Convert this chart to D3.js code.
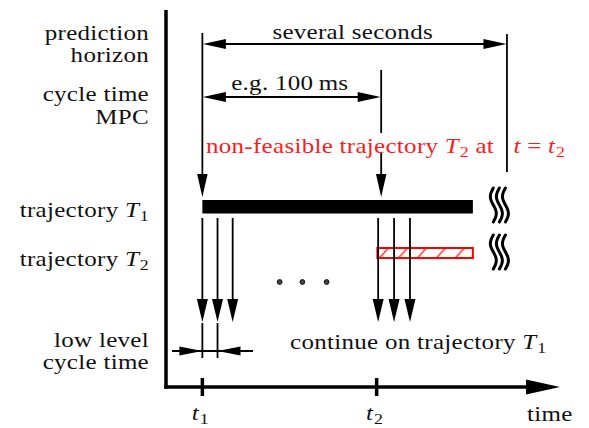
<!DOCTYPE html>
<html><head><meta charset="utf-8">
<script src="https://cdn.jsdelivr.net/npm/d3@7"></script>
<style>body{margin:0;background:#fff}svg{display:block}</style>
</head><body><svg id="c" width="589" height="428"></svg>
<script>
// ---- data ----
const rowLabels = [["prediction","horizon"],["cycle time","MPC"],["trajectory $T_1$"],["trajectory $T_2$"],["low level","cycle time"]];
const tickTimes = [2.4, 13.9];
const tickLabels = ["$t_1$","$t_2$"];
const axisLabel = "time";
const horizonSpan = [2.4, 22.5];      // prediction horizon
const mpcSpan = [2.4, 14.2];          // MPC cycle time
const spanLabels = ["several seconds", "e.g. 100\u2009ms"];
const trajT1 = [2.4, 20.25];
const trajT2 = [13.95, 20.25];
const arrowGroups = [[2.4, 3.4, 4.4], [14.0, 15.05, 16.1]];
const lowLevelCycle = [2.4, 3.4];
const dotTimes = [7.5, 9.0, 10.6];
const squiggleTimes = [21.6, 22.0, 22.4];
const noteRed = "non-feasible trajectory $T_2$ at $t = t_2$";
const noteBlack = "continue on trajectory $T_1$";
const timeDomain = [0, 26];

// ---- drawing ----
const SX = 1.19;
const svg = d3.select("#c");
const x = d3.scaleLinear().domain(timeDomain).range([166, 560]);

function txt(px, py, anchor){
  return svg.append("text").attr("transform",`translate(${px},${py}) scale(${SX},1)`)
    .attr("text-anchor",anchor||"start")
    .style("font-family",'"Liberation Serif"').style("font-size","21px").style("letter-spacing","0.25px").style("fill","#111");
}
function rich(sel, str){
  const parts = str.split("$");
  let shift = 0;
  parts.forEach((p,i)=>{
    if(i%2===0){ if(p) { sel.append("tspan").attr("dy", -shift).text(p); shift=0; } return; }
    const re = /([A-Za-z])_(\d)|([A-Za-z])|(=)|(\s+)/g; let m;
    while((m=re.exec(p))){
      if(m[1]){
        sel.append("tspan").attr("dy",-shift).style("font-style","italic").text(m[1]); shift=0;
        sel.append("tspan").attr("dy",4).attr("dx",0.5).style("font-size","15px").text(m[2]); shift=4;
      } else if(m[3]){ sel.append("tspan").attr("dy",-shift).style("font-style","italic").text(m[3]); shift=0; }
      else if(m[4]){ sel.append("tspan").attr("dy",-shift).text("="); shift=0; }
      else if(m[5]){ sel.append("tspan").attr("dy",-shift).text("\u00a0"); shift=0; }
    }
  });
  return sel;
}
function head(g, tx, ty, dir, len, wid, fill){
  const c=Math.cos(dir), s=Math.sin(dir);
  const bx=tx-c*len, by=ty-s*len;
  g.append("path").attr("d",`M${tx},${ty}L${bx - s*wid/2},${by + c*wid/2}L${bx + s*wid/2},${by - c*wid/2}Z`).attr("fill",fill||"#000");
}
const line = (g,x1,y1,x2,y2,w,col)=>g.append("line").attr("x1",x1).attr("y1",y1).attr("x2",x2).attr("y2",y2).attr("stroke",col||"#000").attr("stroke-width",w||1.8);

// pattern
const defs = svg.append("defs");
const pat = defs.append("pattern").attr("id","hatch").attr("patternUnits","userSpaceOnUse").attr("width",19).attr("height",11).attr("x", x(trajT2[0])+2).attr("y",248);
pat.append("line").attr("x1",0).attr("y1",10).attr("x2",9).attr("y2",0).attr("stroke","#ff2020").attr("stroke-width",1.2);

// axes
line(svg, x(0), 10, x(0), 388.5, 3.5);
line(svg, x(0)-1.7, 387, x(timeDomain[1])-25, 387, 3.5);
head(svg, x(timeDomain[1]), 387, 0, 34, 15);
tickTimes.forEach((t,i)=>{
  line(svg, x(t), 378, x(t), 396, 3.5);
  rich(txt(x(t)-2, 420, "middle"), tickLabels[i]);
});
txt(527, 421).text(axisLabel);

// left labels
const labelBase = [[40,62],[101,124],[217],[266],[347,369]];
rowLabels.forEach((lines,i)=>lines.forEach((l,j)=>{
  rich(txt(149, labelBase[i][j], "end"), l);
}));

// vertical reference lines
line(svg, x(horizonSpan[0]), 33, x(horizonSpan[0]), 180);
head(svg, x(horizonSpan[0]), 197, Math.PI/2, 23, 10.5);
line(svg, x(mpcSpan[1]), 70, x(mpcSpan[1]), 133);
line(svg, x(mpcSpan[1]), 152, x(mpcSpan[1]), 180);
head(svg, x(mpcSpan[1]), 197, Math.PI/2, 23, 10.5);

// span arrows
[[horizonSpan,44,39],[mpcSpan,97,90]].forEach(([sp,y,ty],i)=>{
  line(svg, x(sp[0])+10, y, x(sp[1])-10, y);
  head(svg, x(sp[0])+0.5, y, Math.PI, 23, 10);
  head(svg, x(sp[1])-0.5, y, 0, 23, 10);
  txt((x(sp[0])+x(sp[1]))/2 - 2, ty, "middle").text(spanLabels[i]);
});

// trajectories
svg.append("rect").attr("x",x(trajT1[0])).attr("y",200).attr("width",x(trajT1[1])-x(trajT1[0])).attr("height",13.5).attr("fill","#000");
svg.append("rect").attr("x",x(trajT2[0])).attr("y",248).attr("width",x(trajT2[1])-x(trajT2[0])).attr("height",10)
  .attr("fill","url(#hatch)").attr("stroke","#ff0000").attr("stroke-width",2);

// squiggles
const sq = (x0,y0,h)=>{
  const pts=d3.range(0,1.0001,0.05).map(u=>[x0-3*Math.sin(u*2*Math.PI), y0+u*h]);
  svg.append("path").attr("d",d3.line().curve(d3.curveBasis)(pts)).attr("fill","none").attr("stroke","#000").attr("stroke-width",3).attr("stroke-linecap","round");
};
squiggleTimes.forEach(t=>{ sq(x(t),188,34); sq(x(t),235,34); });

// down arrows
arrowGroups.forEach(g=>g.forEach(t=>{
  line(svg, x(t), 218, x(t), 305);
  head(svg, x(t), 322, Math.PI/2, 23, 11);
}));
dotTimes.forEach(t=>svg.append("circle").attr("cx",x(t)).attr("cy",282).attr("r",2.4).attr("fill","#444").attr("stroke","#111").attr("stroke-width",1));

// low level cycle
lowLevelCycle.forEach(t=>line(svg, x(t), 323, x(t), 358));
line(svg, 172, 351, 253, 351);
head(svg, x(lowLevelCycle[0]), 351, 0, 23, 9);
head(svg, x(lowLevelCycle[1]), 351, Math.PI, 23, 9);

// notes
const red = rich(txt(206, 153), noteRed.replace("at $", "at\u2002\u2005$").replace("t = t", "t \u2009=\u2009 t"));
red.style("fill","#ff1a1a").selectAll("tspan").style("fill","#ff1a1a");
rich(txt(290, 349), noteBlack);
// horizon end line drawn over the red note
line(svg, x(horizonSpan[1]), 34, x(horizonSpan[1]), 172);
</script></body></html>
